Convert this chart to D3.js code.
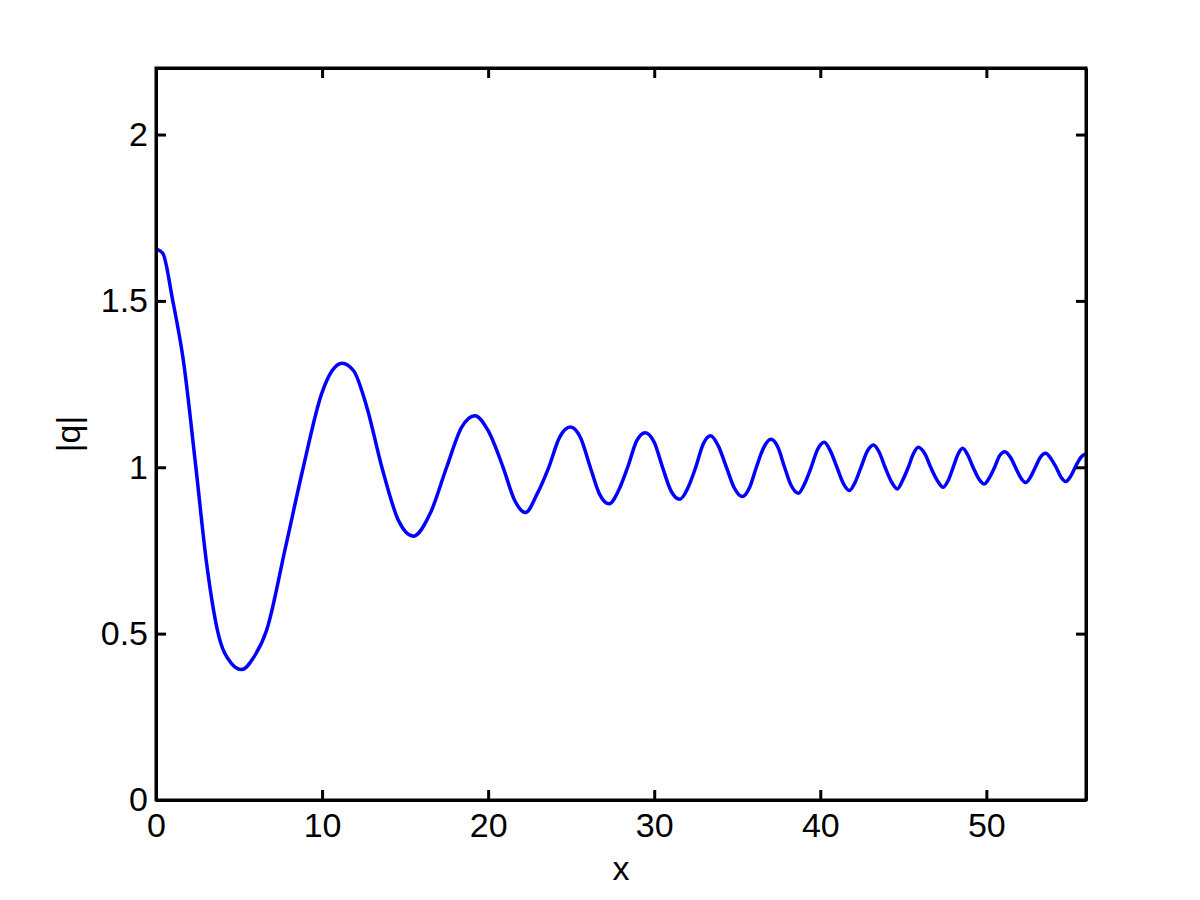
<!DOCTYPE html>
<html>
<head>
<meta charset="utf-8">
<script src="https://cdn.jsdelivr.net/npm/d3@7"></script>
<style>
  html, body { margin: 0; padding: 0; background: #fff; }
  svg { display: block; }
  text { font-family: "Liberation Sans", Arial, Helvetica, sans-serif; fill: #000; }
</style>
</head>
<body>
<svg id="chart" width="1200" height="900"></svg>
<script>
// ---- data ----
const xValues = [0, 0.4, 1.0, 1.65, 2.4, 3.05, 3.7, 4.55, 5.16, 5.9, 6.66, 7.8, 8.87, 9.98, 10.6, 11.2, 11.9, 12.7, 13.6, 14.6, 15.5, 16.5, 17.5, 18.4, 19.2, 20.0, 20.9, 21.6, 22.25, 22.95, 23.65, 24.3, 24.95, 25.55, 26.15, 26.7, 27.28, 27.85, 28.4, 28.95, 29.46, 30.0, 30.5, 31.0, 31.55, 32.0, 32.5, 32.95, 33.4, 33.85, 34.35, 34.8, 35.3, 35.75, 36.15, 36.6, 37.03, 37.45, 37.85, 38.25, 38.68, 39.05, 39.45, 39.85, 40.24, 40.6, 41.0, 41.4, 41.75, 42.1, 42.45, 42.85, 43.2, 43.55, 43.9, 44.3, 44.64, 44.95, 45.3, 45.6, 45.9, 46.3, 46.65, 47.05, 47.4, 47.7, 48.0, 48.3, 48.57, 48.9, 49.2, 49.55, 49.88, 50.2, 50.5, 50.8, 51.12, 51.45, 51.75, 52.05, 52.37, 52.65, 52.95, 53.25, 53.57, 53.9, 54.2, 54.5, 54.78, 55.1, 55.45, 55.75, 56.0];
const qValues = [1.656, 1.644, 1.503, 1.32, 1.0, 0.71, 0.51, 0.41, 0.392, 0.43, 0.51, 0.76, 1.0, 1.222, 1.29, 1.313, 1.29, 1.18, 1.0, 0.84, 0.793, 0.86, 1.0, 1.12, 1.155, 1.11, 1.0, 0.9, 0.864, 0.92, 1.0, 1.09, 1.121, 1.09, 1.0, 0.92, 0.89, 0.93, 1.0, 1.08, 1.104, 1.075, 1.0, 0.93, 0.904, 0.935, 1.0, 1.07, 1.095, 1.065, 1.0, 0.94, 0.912, 0.94, 1.0, 1.06, 1.084, 1.06, 1.0, 0.945, 0.922, 0.95, 1.0, 1.055, 1.075, 1.05, 1.0, 0.95, 0.93, 0.955, 1.0, 1.05, 1.067, 1.045, 1.0, 0.955, 0.935, 0.96, 1.0, 1.04, 1.06, 1.04, 1.0, 0.96, 0.94, 0.96, 1.0, 1.04, 1.057, 1.035, 1.0, 0.965, 0.95, 0.97, 1.0, 1.035, 1.047, 1.03, 1.0, 0.97, 0.954, 0.97, 1.0, 1.03, 1.042, 1.025, 1.0, 0.97, 0.957, 0.975, 1.01, 1.033, 1.04];
const xTicks = [0, 10, 20, 30, 40, 50];
const yTicks = [0, 0.5, 1, 1.5, 2];
const xTickLabels = ["0", "10", "20", "30", "40", "50"];
const yTickLabels = ["0", "0.5", "1", "1.5", "2"];
const xDomain = [0, 56];
const yDomain = [0, 2.2];
const xLabel = "x";
const yLabel = "|q|";

// ---- layout ----
const mLeft = 156, mRight = 1086, mTop = 68, mBottom = 800;
const svg = d3.select("#chart");
const x = d3.scaleLinear().domain(xDomain).range([mLeft, mRight]);
const y = d3.scaleLinear().domain(yDomain).range([mBottom, mTop]);

const points = xValues.map((v, i) => ({x: v, y: qValues[i]}));

// curve
svg.append("clipPath").attr("id", "clip")
  .append("rect").attr("x", mLeft).attr("y", mTop)
  .attr("width", mRight - mLeft).attr("height", mBottom - mTop);

svg.append("path")
  .datum(points)
  .attr("clip-path", "url(#clip)")
  .attr("fill", "none")
  .attr("stroke", "#0000ff")
  .attr("stroke-width", 3.5)
  .attr("stroke-linejoin", "round")
  .attr("d", d3.line().x(d => x(d.x)).y(d => y(d.y)).curve(d3.curveMonotoneX));

const tickLen = 10;
const fontSize = 34;

// bottom axis
const gB = svg.append("g").attr("transform", `translate(0,${mBottom})`)
  .call(d3.axisBottom(x).tickValues(xTicks).tickFormat((d, i) => xTickLabels[i])
    .tickSizeInner(-tickLen).tickSizeOuter(0).tickPadding(13));
// top axis
const gT = svg.append("g").attr("transform", `translate(0,${mTop})`)
  .call(d3.axisTop(x).tickValues(xTicks).tickFormat("")
    .tickSizeInner(-tickLen).tickSizeOuter(0));
// left axis
const gL = svg.append("g").attr("transform", `translate(${mLeft},0)`)
  .call(d3.axisLeft(y).tickValues(yTicks).tickFormat((d, i) => yTickLabels[i])
    .tickSizeInner(-tickLen).tickSizeOuter(0).tickPadding(8));
// right axis
const gR = svg.append("g").attr("transform", `translate(${mRight},0)`)
  .call(d3.axisRight(y).tickValues(yTicks).tickFormat("")
    .tickSizeInner(-tickLen).tickSizeOuter(0));

[gB, gT, gL, gR].forEach(g => {
  g.selectAll(".domain").attr("stroke", "#000").attr("stroke-width", 3);
  g.selectAll(".tick line").attr("stroke", "#000").attr("stroke-width", 3);
  g.selectAll(".tick text")
    .attr("font-family", "'Liberation Sans', Arial, Helvetica, sans-serif")
    .attr("font-size", fontSize).attr("fill", "#000");
});
gB.selectAll(".tick text").attr("dy", "0.72em");

// box
svg.append("rect").attr("x", mLeft).attr("y", mTop)
  .attr("width", mRight - mLeft).attr("height", mBottom - mTop)
  .attr("fill", "none").attr("stroke", "#000").attr("stroke-width", 3);

// axis labels
svg.append("text").attr("x", (mLeft + mRight) / 2).attr("y", 880)
  .attr("text-anchor", "middle").attr("font-size", fontSize).text(xLabel);
svg.append("text")
  .attr("transform", `translate(80,${(mTop + mBottom) / 2}) rotate(-90)`)
  .attr("text-anchor", "middle").attr("font-size", fontSize).text(yLabel);
</script>
</body>
</html>
